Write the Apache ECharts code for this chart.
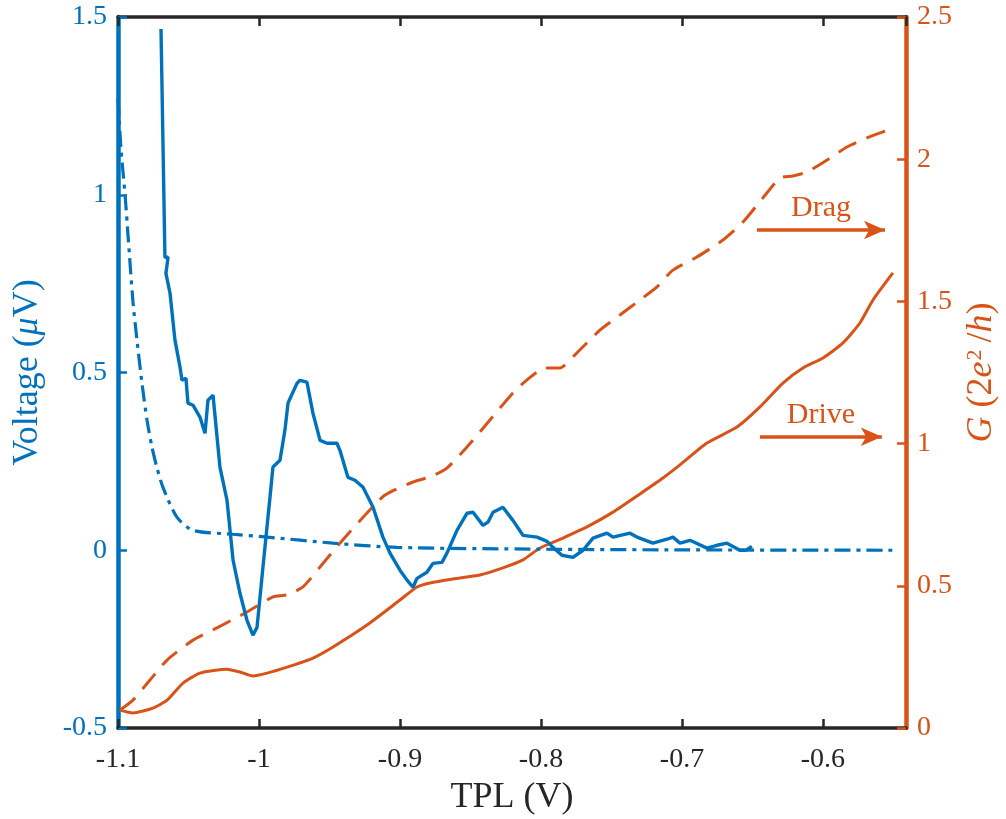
<!DOCTYPE html>
<html>
<head>
<meta charset="utf-8">
<script src="https://cdn.jsdelivr.net/npm/echarts@6/dist/echarts.min.js"></script>
<style>
  html, body { margin: 0; padding: 0; background: #fff; }
  #chart { width: 1006px; height: 819px; }
</style>
</head>
<body>
<div id="chart"></div>
<script>
// Measured drag voltage vs. TPL gate voltage (left axis, μV)
const tplMeasured = [-1.0695, -1.0667, -1.0645, -1.0660, -1.0631, -1.0596, -1.0560, -1.0546, -1.0518, -1.0504,
  -1.0468, -1.0418, -1.0383, -1.0362, -1.0326, -1.0277, -1.0227, -1.0184, -1.0135, -1.0085,
  -1.0043, -1.0014, -0.9972, -0.9922, -0.9901, -0.9851, -0.9816, -0.9794, -0.9730, -0.9709,
  -0.9660, -0.9617, -0.9567, -0.9518, -0.9447, -0.9426, -0.9369, -0.9319, -0.9262, -0.9191,
  -0.9121, -0.9071, -0.9000, -0.8950, -0.8908, -0.8879, -0.8809, -0.8766, -0.8702, -0.8667,
  -0.8596, -0.8525, -0.8482, -0.8411, -0.8376, -0.8340, -0.8270, -0.8199, -0.8128, -0.8028,
  -0.7957, -0.7915, -0.7851, -0.7773, -0.7702, -0.7631, -0.7532, -0.7489, -0.7369, -0.7319,
  -0.7206, -0.7106, -0.7064, -0.7014, -0.6943, -0.6823, -0.6752, -0.6681, -0.6589, -0.6546, -0.6504];
const voltMeasured = [1.466, 0.824, 0.824, 0.779, 0.723, 0.591, 0.515, 0.478, 0.484, 0.414,
  0.408, 0.374, 0.329, 0.422, 0.436, 0.234, 0.141, -0.028, -0.121, -0.197,
  -0.239, -0.217, -0.048, 0.149, 0.234, 0.253, 0.338, 0.414, 0.470, 0.478,
  0.473, 0.385, 0.309, 0.301, 0.301, 0.281, 0.205, 0.197, 0.177, 0.121,
  0.037, -0.008, -0.056, -0.084, -0.104, -0.079, -0.062, -0.037, -0.034, -0.008,
  0.056, 0.104, 0.107, 0.070, 0.079, 0.107, 0.121, 0.084, 0.042, 0.037,
  0.025, 0.008, -0.014, -0.020, 0.000, 0.034, 0.048, 0.037, 0.048, 0.037,
  0.020, 0.031, 0.037, 0.020, 0.028, 0.006, 0.014, 0.020, 0.000, 0.000, 0.011];

// Model drag voltage (left axis, μV)
const tplModel = [-1.1000, -1.0979, -1.0950, -1.0929, -1.0894, -1.0865, -1.0830, -1.0794, -1.0759, -1.0723,
  -1.0681, -1.0582, -1.0468, -1.0184, -0.9943, -0.9475, -0.9021, -0.8000, -0.7000, -0.5504];
const voltModel = [1.27, 1.13, 1.00, 0.886, 0.70, 0.59, 0.47, 0.366, 0.29, 0.231,
  0.177, 0.093, 0.056, 0.045, 0.037, 0.020, 0.008, 0.003, 0.001, 0.000];

// Conductance of the drive channel (right axis, 2e²/h)
const tplDrive = [-1.0986, -1.0894, -1.0752, -1.0652, -1.0539, -1.0418, -1.0227, -1.0135, -1.0043, -0.9943,
  -0.9801, -0.9617, -0.9475, -0.9234, -0.9000, -0.8879, -0.8787, -0.8624, -0.8433, -0.8270,
  -0.8128, -0.8007, -0.7844, -0.7674, -0.7489, -0.7298, -0.7135, -0.7014, -0.6823, -0.6610,
  -0.6447, -0.6284, -0.6142, -0.6000, -0.5858, -0.5738, -0.5645, -0.5504];
const gDrive = [0.063, 0.053, 0.070, 0.098, 0.158, 0.193, 0.207, 0.197, 0.183, 0.193,
  0.214, 0.246, 0.285, 0.362, 0.450, 0.496, 0.510, 0.524, 0.538, 0.563,
  0.591, 0.633, 0.668, 0.707, 0.759, 0.823, 0.879, 0.925, 1.002, 1.058,
  1.129, 1.213, 1.266, 1.301, 1.354, 1.424, 1.505, 1.600];

// Conductance of the drag channel (right axis, 2e²/h)
const tplDrag = [-1.0986, -1.0894, -1.0773, -1.0652, -1.0468, -1.0298, -1.0085, -0.9901, -0.9801, -0.9688,
  -0.9567, -0.9426, -0.9234, -0.9106, -0.8908, -0.8787, -0.8667, -0.8525, -0.8362, -0.8199,
  -0.8099, -0.7972, -0.7865, -0.7759, -0.7582, -0.7440, -0.7298, -0.7177, -0.7064, -0.6894,
  -0.6709, -0.6567, -0.6426, -0.6305, -0.6213, -0.6113, -0.5972, -0.5830, -0.5688, -0.5574, -0.5504];
const gDrag = [0.063, 0.098, 0.169, 0.239, 0.309, 0.352, 0.408, 0.461, 0.468, 0.496,
  0.566, 0.650, 0.756, 0.819, 0.865, 0.883, 0.914, 0.988, 1.083, 1.178,
  1.224, 1.266, 1.266, 1.312, 1.399, 1.452, 1.505, 1.551, 1.610, 1.656,
  1.716, 1.779, 1.864, 1.934, 1.941, 1.955, 1.997, 2.043, 2.075, 2.096, 2.106];

const xTickLabels = ['-1.1', '-1', '-0.9', '-0.8', '-0.7', '-0.6'];
const leftTickLabels = ['-0.5', '0', '0.5', '1', '1.5'];
const rightTickLabels = ['0', '0.5', '1', '1.5', '2', '2.5'];

const BLUE = '#0072BD';
const ORANGE = '#D95319';
const INK = '#262626';
const FONT = 'Liberation Serif';
const TICK_SIZE = 28;
const TITLE_SIZE = 36;

const zip = (xs, ys) => xs.map((x, i) => [x, ys[i]]);
const fmtTick = (labels, min, step) => v => {
  const k = Math.round((v - min) / step);
  return labels[k] !== undefined && Math.abs(min + k * step - v) < 1e-6 ? labels[k] : '';
};

const chart = echarts.init(document.getElementById('chart'), null, { renderer: 'canvas' });

const xBase = {
  type: 'value', min: -1.1, max: -0.5411, interval: 0.1,
  splitLine: { show: false },
  axisLine: { show: true, onZero: false, lineStyle: { color: INK, width: 3.5 } },
  axisTick: { show: true, inside: true, length: 9, lineStyle: { color: INK, width: 2.5 } }
};

chart.setOption({
  animation: false,
  backgroundColor: '#ffffff',
  textStyle: { fontFamily: FONT },
  grid: { left: 118, right: 100, top: 17, bottom: 91, containLabel: false, outerBoundsMode: 'none' },
  xAxis: [
    Object.assign({}, xBase, {
      position: 'bottom',
      name: 'TPL (V)', nameLocation: 'middle', nameGap: 52,
      nameTextStyle: { fontFamily: FONT, fontSize: TITLE_SIZE, color: INK },
      axisLabel: {
        fontFamily: FONT, fontSize: TICK_SIZE, color: INK, margin: 18,
        showMaxLabel: false,
        formatter: fmtTick(xTickLabels, -1.1, 0.1)
      }
    }),
    Object.assign({}, xBase, {
      position: 'top',
      axisLabel: { show: false }
    })
  ],
  yAxis: [
    {
      type: 'value', position: 'left', min: -0.5, max: 1.5, interval: 0.5,
      splitLine: { show: false },
      axisLine: { show: true, onZero: false, lineStyle: { color: BLUE, width: 4.5 } },
      axisTick: { show: true, inside: true, length: 9, lineStyle: { color: BLUE, width: 2.5 } },
      axisLabel: {
        fontFamily: FONT, fontSize: TICK_SIZE, color: BLUE, margin: 11,
        formatter: fmtTick(leftTickLabels, -0.5, 0.5)
      },
      name: '{n|Voltage (}{i|μ}{n|V)}',
      nameLocation: 'middle', nameRotate: 90, nameGap: 72,
      nameTextStyle: {
        color: BLUE,
        rich: {
          n: { fontFamily: FONT, fontSize: TITLE_SIZE, color: BLUE },
          i: { fontFamily: FONT, fontSize: TITLE_SIZE, color: BLUE, fontStyle: 'italic' }
        }
      }
    },
    {
      type: 'value', position: 'right', min: 0, max: 2.5, interval: 0.5,
      splitLine: { show: false },
      axisLine: { show: true, onZero: false, lineStyle: { color: ORANGE, width: 4.5 } },
      axisTick: { show: true, inside: true, length: 9, lineStyle: { color: ORANGE, width: 2.5 } },
      axisLabel: {
        fontFamily: FONT, fontSize: TICK_SIZE, color: ORANGE, margin: 11,
        formatter: fmtTick(rightTickLabels, 0, 0.5)
      },
      name: '{i|G}{n|\u00a0(2}{i|e}{sup|2}{n|\u2009/}{i|h}{n|)}',
      nameLocation: 'middle', nameRotate: 90, nameGap: 58,
      nameTextStyle: {
        color: ORANGE,
        rich: {
          n: { fontFamily: FONT, fontSize: TITLE_SIZE, color: ORANGE },
          i: { fontFamily: FONT, fontSize: TITLE_SIZE, color: ORANGE, fontStyle: 'italic' },
          sup: { fontFamily: FONT, fontSize: 22, color: ORANGE, verticalAlign: 'top', padding: [0, 0, 14, 1] }
        }
      }
    }
  ],
  series: [
    {
      name: 'Drag G', type: 'line', xAxisIndex: 0, yAxisIndex: 1,
      data: zip(tplDrag, gDrag), showSymbol: false, smooth: 0.2,
      lineStyle: { color: ORANGE, width: 3, type: [20, 11] }
    },
    {
      name: 'Drive G', type: 'line', xAxisIndex: 0, yAxisIndex: 1,
      data: zip(tplDrive, gDrive), showSymbol: false, smooth: 0.2,
      lineStyle: { color: ORANGE, width: 3 },
      markLine: {
        silent: true, animation: false,
        symbol: ['none', 'arrow'], symbolSize: [14, 21],
        lineStyle: { color: ORANGE, width: 3.5, type: 'solid' },
        label: {
          show: true, position: 'middle', distance: 7,
          fontFamily: FONT, fontSize: 30, color: ORANGE
        },
        data: [
          [{ coord: [-0.6468, 1.751], label: { formatter: 'Drag' } }, { coord: [-0.5560, 1.751] }],
          [{ coord: [-0.6447, 1.024], label: { formatter: 'Drive' } }, { coord: [-0.5582, 1.024] }]
        ]
      }
    },
    {
      name: 'Model V', type: 'line', xAxisIndex: 0, yAxisIndex: 0,
      data: zip(tplModel, voltModel), showSymbol: false, smooth: 0.25,
      lineStyle: { color: BLUE, width: 3.2, type: [16, 6, 4, 6] }
    },
    {
      name: 'Measured V', type: 'line', xAxisIndex: 0, yAxisIndex: 0,
      data: zip(tplMeasured, voltMeasured), showSymbol: false,
      lineStyle: { color: BLUE, width: 3.4 }
    }
  ]
});
</script>
</body>
</html>
